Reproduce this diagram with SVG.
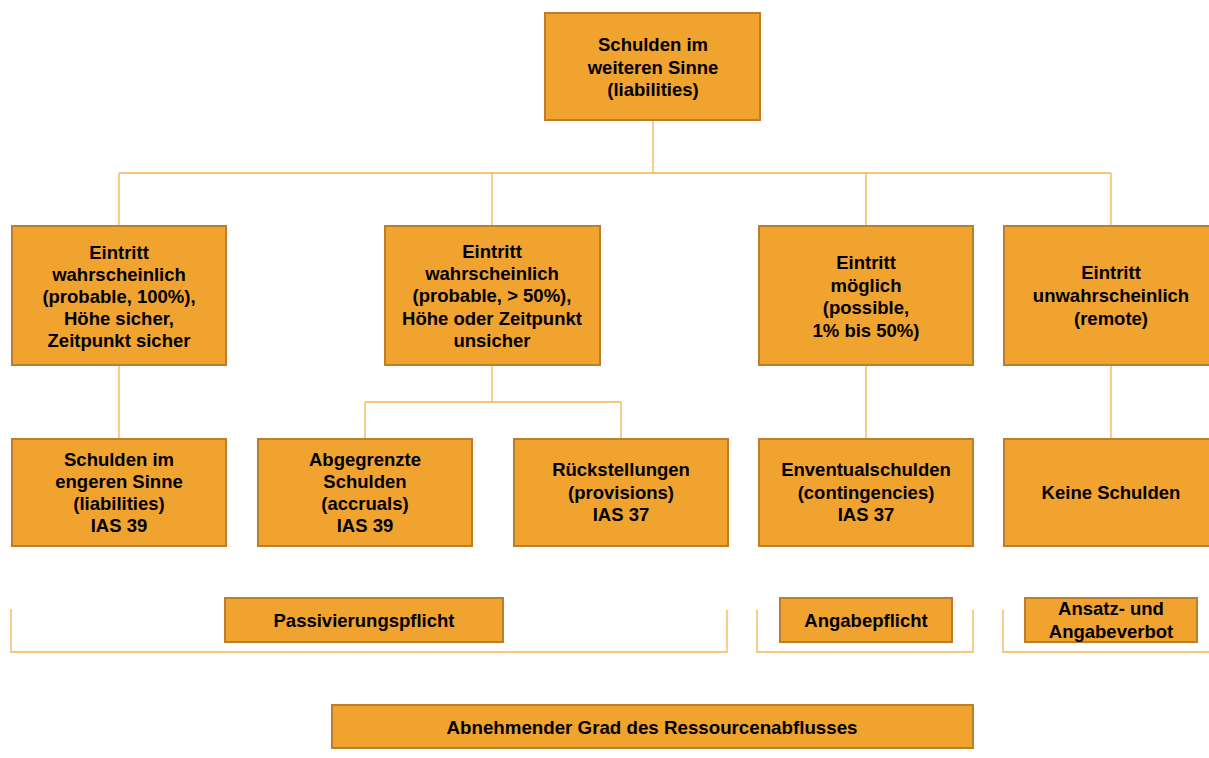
<svg xmlns="http://www.w3.org/2000/svg" width="1209" height="758" viewBox="0 0 1209 758">
<style>
.box{fill:#F0A32F;stroke:#BC7E2A;stroke-width:2}
.ln{fill:none;stroke:#F5B450;stroke-width:1.3}
text{font-family:"Liberation Sans",Arial,sans-serif;font-weight:bold;font-size:18.5px;fill:#000;text-anchor:middle}
.nar{font-family:"Liberation Sans Narrow","Liberation Sans",Arial,sans-serif}
</style>
<rect width="1209" height="758" fill="#fff"/>
<g id="connectors">
<path class="ln" d="M653 120V173M119 173H1111M119 173V226M492 173V226M866 173V226M1111 173V226"/>
<path class="ln" d="M119 365V439M492 365V402M365 402H621M365 402V439M621 402V439M866 365V439M1111 365V439"/>
<path class="ln" d="M11 609V652H727V610M757 610V652H973V610M1003 610V652H1209"/>
</g>
<g id="n0"><rect class="box" x="545" y="13" width="215" height="107"/>
<text x="653" y="51">Schulden im</text><text x="653" y="74">weiteren Sinne</text><text x="653" y="96">(liabilities)</text></g>
<g id="n1"><rect class="box" x="12" y="226" width="214" height="139"/>
<text x="119" y="259">Eintritt</text><text x="119" y="281">wahrscheinlich</text><text x="119" y="303">(probable, 100%),</text><text x="119" y="325">Höhe sicher,</text><text x="119" y="347">Zeitpunkt sicher</text></g>
<g id="n2"><rect class="box" x="385" y="226" width="215" height="139"/>
<text x="492" y="258">Eintritt</text><text x="492" y="280">wahrscheinlich</text><text x="492" y="302">(probable, &gt; 50%),</text><text x="492" y="325">Höhe oder Zeitpunkt</text><text x="492" y="347">unsicher</text></g>
<g id="n3"><rect class="box" x="759" y="226" width="214" height="139"/>
<text x="866" y="269">Eintritt</text><text x="866" y="292">möglich</text><text x="866" y="314">(possible,</text><text x="866" y="337">1% bis 50%)</text></g>
<g id="n4"><rect class="box" x="1004" y="226" width="214" height="139"/>
<text x="1111" y="279">Eintritt</text><text x="1111" y="302">unwahrscheinlich</text><text x="1111" y="325">(remote)</text></g>
<g id="n5"><rect class="box" x="12" y="439" width="214" height="107"/>
<text x="119" y="466">Schulden im</text><text x="119" y="488">engeren Sinne</text><text x="119" y="510">(liabilities)</text><text x="119" y="532">IAS 39</text></g>
<g id="n6"><rect class="box" x="258" y="439" width="214" height="107"/>
<text x="365" y="466">Abgegrenzte</text><text x="365" y="488">Schulden</text><text x="365" y="510">(accruals)</text><text x="365" y="532">IAS 39</text></g>
<g id="n7"><rect class="box" x="514" y="439" width="214" height="107"/>
<text x="621" y="476">Rückstellungen</text><text x="621" y="499">(provisions)</text><text x="621" y="521">IAS 37</text></g>
<g id="n8"><rect class="box" x="759" y="439" width="214" height="107"/>
<text x="866" y="476">Enventualschulden</text><text x="866" y="499">(contingencies)</text><text x="866" y="521">IAS 37</text></g>
<g id="n9"><rect class="box" x="1004" y="439" width="214" height="107"/>
<text x="1111" y="499">Keine Schulden</text></g>
<g id="n10"><rect class="box" x="225" y="598" width="278" height="44"/>
<text x="364" y="627">Passivierungspflicht</text></g>
<g id="n11"><rect class="box" x="780" y="598" width="172" height="44"/>
<text x="866" y="627">Angabepflicht</text></g>
<g id="n12"><rect class="box" x="1025" y="598" width="172" height="44"/>
<text x="1111" y="615">Ansatz- und</text><text x="1111" y="638">Angabeverbot</text></g>
<g id="n13"><rect class="box" x="332" y="705" width="641" height="43"/>
<text class="nar" x="652" y="734" textLength="411" lengthAdjust="spacingAndGlyphs">Abnehmender Grad des Ressourcenabflusses</text></g>
</svg>
